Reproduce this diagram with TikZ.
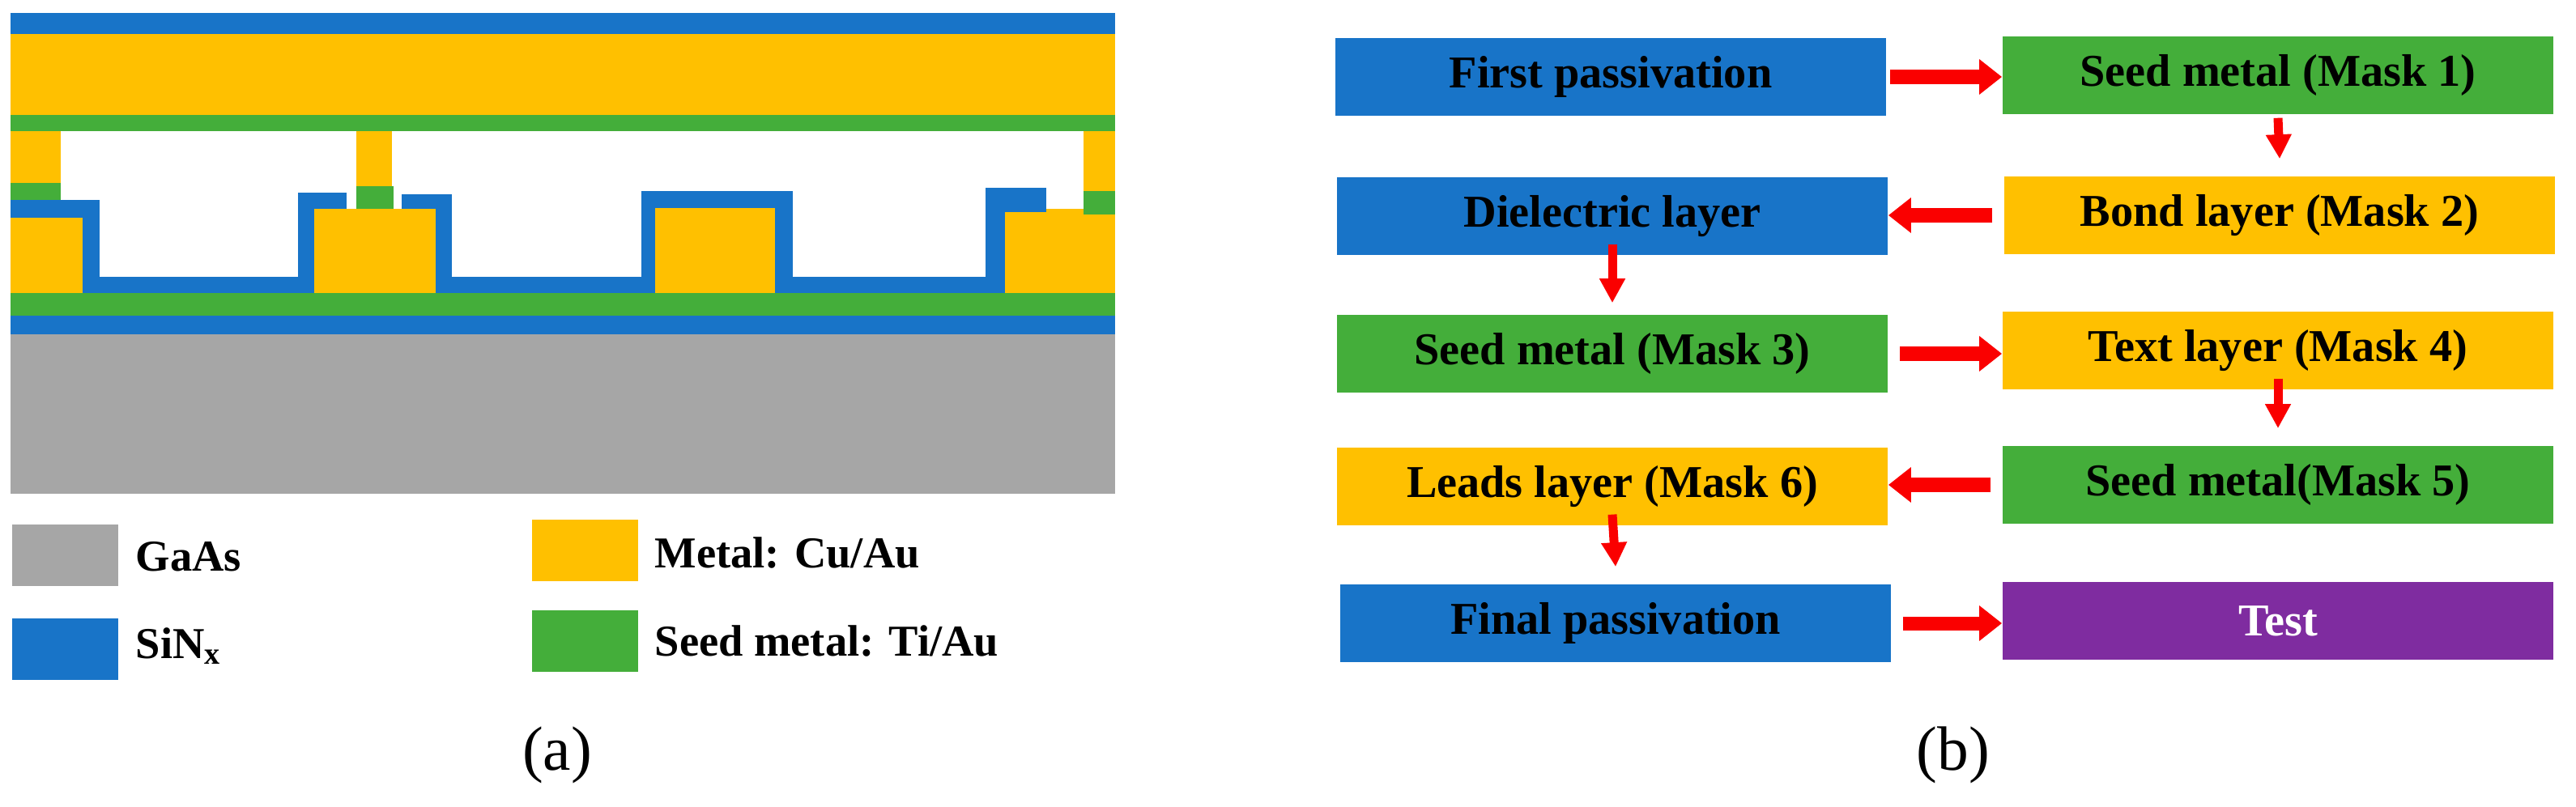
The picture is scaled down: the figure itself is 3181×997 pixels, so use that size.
\documentclass[tikz,border=0pt]{standalone}
\usepackage{fontspec}
\setmainfont{Liberation Serif}[BoldFont={Liberation Serif Bold}]
\usetikzlibrary{arrows.meta}
\definecolor{cblue}{RGB}{24,116,200}
\definecolor{cyel}{RGB}{255,192,0}
\definecolor{cgreen}{RGB}{68,174,58}
\definecolor{cgray}{RGB}{166,166,166}
\definecolor{cpurp}{RGB}{127,44,160}
\definecolor{cred}{RGB}{250,0,0}
\begin{document}
\begin{tikzpicture}[x=0.01cm,y=-0.01cm,
  box/.style={minimum width=6.8cm,minimum height=0.96cm,inner sep=0pt,font=\fontsize{16}{18}\selectfont\bfseries},
  leg/.style={anchor=west,inner sep=0pt,font=\fontsize{15.5}{18}\selectfont\bfseries},
  harr/.style={draw=cred,line width=0.17cm,-{Triangle[length=0.28cm,width=0.42cm]}},
  varr/.style={draw=cred,line width=0.11cm,-{Triangle[length=0.3cm,width=0.3cm]}}]
\useasboundingbox (0,0) rectangle (3181,997);
% cross-section
\fill[cgray] (13,413) rectangle (1377,610);
\fill[cblue] (13,390) rectangle (1377,413);
\fill[cgreen] (13,362) rectangle (1377,390);
\fill[cblue] (13,342) rectangle (1377,362);
\fill[cblue] (13,247) rectangle (123,362);
\fill[cyel] (13,269) rectangle (102,362);
\fill[cblue] (368,238) rectangle (428,362);
\fill[cblue] (496,240) rectangle (558,362);
\fill[cyel] (388,258) rectangle (538,362);
\fill[cblue] (792,236) rectangle (979,362);
\fill[cyel] (809,257) rectangle (957,362);
\fill[cblue] (1217,232) rectangle (1292,362);
\fill[cyel] (1241,262) rectangle (1377,362);
\fill[cyel] (1292,258) rectangle (1377,262);
\fill[cgreen] (1338,236) rectangle (1377,265);
\fill[cyel] (1338,162) rectangle (1377,236);
\fill[cgreen] (440,230) rectangle (486,258);
\fill[cyel] (440,162) rectangle (484,230);
\fill[cgreen] (13,226) rectangle (75,247);
\fill[cyel] (13,162) rectangle (75,226);
\fill[cgreen] (13,142) rectangle (1377,162);
\fill[cyel] (13,42) rectangle (1377,142);
\fill[cblue] (13,16) rectangle (1377,42);
% legend
\fill[cgray] (15,648) rectangle (146,724);
\fill[cblue] (15,764) rectangle (146,840);
\fill[cyel] (657,642) rectangle (788,718);
\fill[cgreen] (657,754) rectangle (788,830);
\node[leg] (lg1) at (167,688) {GaAs};
\node[leg] (lg2) at (167,798) {SiN\textsubscript{x}};
\node[leg] (lg3) at (808,683) {Metal: Cu/Au};
\node[leg] (lg4) at (808,792) {Seed metal: Ti/Au};
\node[font=\fontsize{22}{26}\selectfont] (la) at (688,933) {(a)};
\node[font=\fontsize{22}{26}\selectfont] (lb) at (2412,933) {(b)};
% flowchart
\node[box,fill=cblue] (n1) at (1989,95) {First passivation};
\node[box,fill=cgreen] (n2) at (2813,93) {Seed metal (Mask 1)};
\node[box,fill=cblue] (n4) at (1991,267) {Dielectric layer};
\node[box,fill=cyel] (n3) at (2815,266) {Bond layer (Mask 2)};
\node[box,fill=cgreen] (n5) at (1991,437) {Seed metal (Mask 3)};
\node[box,fill=cyel] (n6) at (2813,433) {Text layer (Mask 4)};
\node[box,fill=cyel] (n8) at (1991,601) {Leads layer (Mask 6)};
\node[box,fill=cgreen] (n7) at (2813,599) {Seed metal(Mask 5)};
\node[box,fill=cblue] (n9) at (1995,770) {Final passivation};
\node[box,fill=cpurp,text=white] (n10) at (2813,767) {Test};
\draw[harr] (n1.east) ++(4,0) coordinate (a1) -- (n2.west |- a1);
\draw[varr] (n2.south) ++(0,4) coordinate (a2) -- ([yshift=6]n3.north);
\draw[harr] ([xshift=-4]n3.west) -- (n4.east |- n3.west);
\draw[varr] ([yshift=4]n4.south) -- ([yshift=4]n5.north);
\draw[harr] ([xshift=4]n5.east) -- (n6.west |- n5.east);
\draw[varr] ([yshift=4]n6.south) -- ([yshift=6]n7.north);
\draw[harr] ([xshift=-4]n7.west) -- (n8.east |- n7.west);
\draw[varr] ([yshift=4]n8.south) -- ([yshift=6]n9.north);
\draw[harr] ([xshift=4]n9.east) -- (n10.west |- n9.east);
\end{tikzpicture}
\end{document}
